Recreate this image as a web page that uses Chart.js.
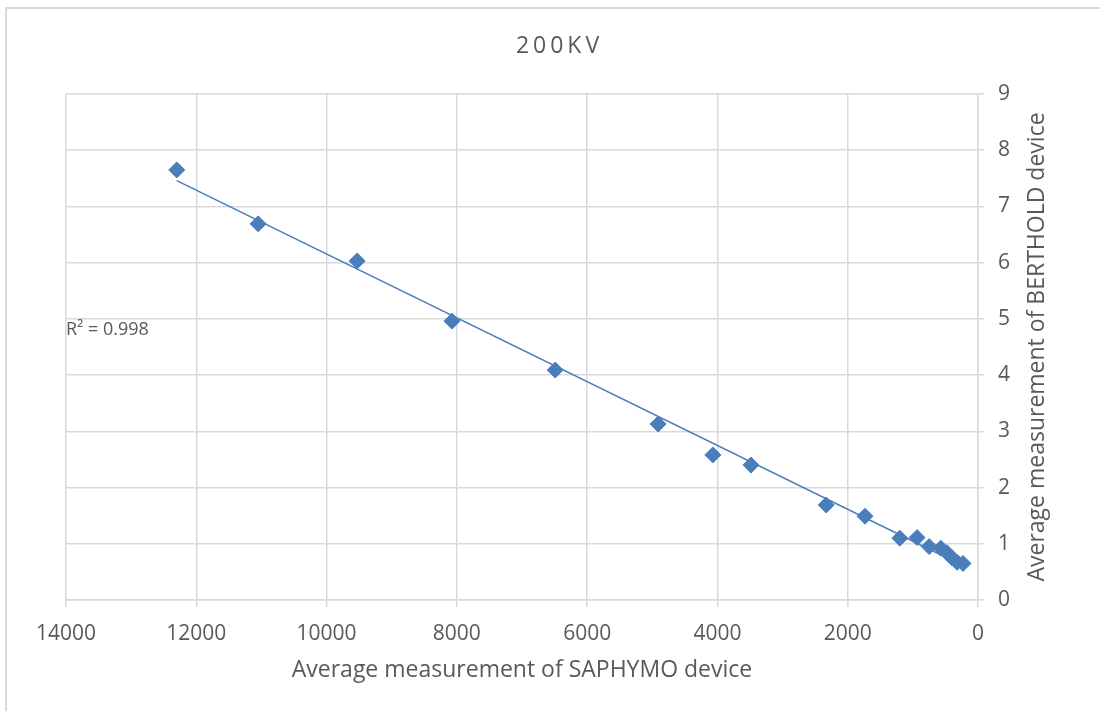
<!DOCTYPE html>
<html>
<head>
<meta charset="utf-8">
<script src="https://cdn.jsdelivr.net/npm/chart.js@4.4.1/dist/chart.umd.min.js"></script>
<style>
html,body{margin:0;padding:0;background:#fff;}
#wrap{position:relative;width:1100px;height:711px;}
</style>
</head>
<body>
<div id="wrap"><canvas id="c" width="1100" height="711"></canvas></div>
<script>
const chartTitle = "200KV";
const xTitle = "Average measurement of SAPHYMO device";
const yTitle = "Average measurement of BERTHOLD device";
const r2Label = "R² = 0.998";
const saphymo = [12300, 11050, 9530, 8075, 6490, 4910, 4070, 3485, 2330, 1735, 1200, 935, 750, 570, 475, 400, 320, 230];
const berthold = [7.65, 6.69, 6.03, 4.96, 4.09, 3.13, 2.58, 2.40, 1.69, 1.49, 1.10, 1.11, 0.95, 0.92, 0.84, 0.75, 0.67, 0.65];

const FONT = "'Open Sans', 'Liberation Sans', sans-serif";
const GRID = '#d9d9d9';
const TEXT = '#595959';
const BLUE = '#4a7ebb';

// linear least-squares trendline (as Excel does)
const n = saphymo.length;
const mx = saphymo.reduce((a,b)=>a+b,0)/n;
const my = berthold.reduce((a,b)=>a+b,0)/n;
let sxy=0, sxx=0;
for(let i=0;i<n;i++){sxy+=(saphymo[i]-mx)*(berthold[i]-my);sxx+=(saphymo[i]-mx)**2;}
const slope = sxy/sxx, intercept = my - slope*mx;
const xMin = Math.min(...saphymo), xMax = Math.max(...saphymo);
const trend = [{x:xMin,y:intercept+slope*xMin},{x:xMax,y:intercept+slope*xMax}];

const decor = {
  id:'decor',
  afterDraw(chart){
    const ctx = chart.ctx, a = chart.chartArea;
    ctx.save();
    ctx.strokeStyle = '#d9d9d9';
    ctx.lineWidth = 2;
    ctx.strokeRect(6, 8, 1200, 800);
    ctx.fillStyle = TEXT;
    // chart title
    ctx.font = "23px " + FONT;
    ctx.textAlign = 'left';
    ctx.textBaseline = 'middle';
    if ('letterSpacing' in ctx) ctx.letterSpacing = '4px';
    const tw = ctx.measureText(chartTitle).width - 4;
    ctx.fillText(chartTitle, 557.5 - tw/2, 46);
    if ('letterSpacing' in ctx) ctx.letterSpacing = '0px';
    // R² label
    ctx.font = "18px " + FONT;
    ctx.textAlign = 'left';
    ctx.fillText(r2Label, a.left, 330);
    // right-hand axis title, reading bottom to top
    ctx.font = "23px " + FONT;
    ctx.textAlign = 'center';
    ctx.translate(1037, (a.top + a.bottom)/2);
    ctx.rotate(-Math.PI/2);
    ctx.fillText(yTitle, 0, 0);
    ctx.restore();
  }
};

new Chart(document.getElementById('c'), {
  type: 'scatter',
  data: {
    datasets: [
      {
        label: 'data',
        data: saphymo.map((x,i)=>({x:x, y:berthold[i]})),
        pointStyle: 'rectRot',
        pointRadius: 8,
        pointBackgroundColor: BLUE,
        pointBorderColor: BLUE,
        pointBorderWidth: 1,
        showLine: false,
        order: 1
      },
      {
        label: 'trend',
        data: trend,
        showLine: true,
        borderColor: BLUE,
        borderWidth: 1.5,
        pointRadius: 0,
        fill: false,
        order: 2
      }
    ]
  },
  options: {
    responsive: false,
    animation: false,
    layout: { padding: { left: 66, right: 47, top: 94, bottom: 23 } },
    plugins: { legend: { display: false }, title: { display: false }, tooltip: { enabled: false } },
    scales: {
      x: {
        type: 'linear',
        reverse: true,
        min: 0, max: 14000,
        ticks: { stepSize: 2000, color: TEXT, font: { family: FONT, size: 21 }, padding: 14, maxRotation: 0,
                 callback: v => String(v) },
        grid: { color: GRID, lineWidth: 1.5, tickLength: 7 },
        border: { color: GRID, width: 1.5 },
        title: { display: true, text: xTitle, color: TEXT, font: { family: FONT, size: 23 }, padding: 4 },
        afterFit(s){ s.height = 88; }
      },
      y: {
        type: 'linear',
        position: 'right',
        min: 0, max: 9,
        ticks: { stepSize: 1, color: TEXT, font: { family: FONT, size: 21 }, padding: 14,
                 callback: v => String(v) },
        grid: { color: GRID, lineWidth: 1.5, tickLength: 6 },
        border: { color: GRID, width: 1.5 },
        title: { display: false },
        afterFit(s){ s.width = 75; }
      }
    }
  },
  plugins: [decor]
});
</script>
</body>
</html>
